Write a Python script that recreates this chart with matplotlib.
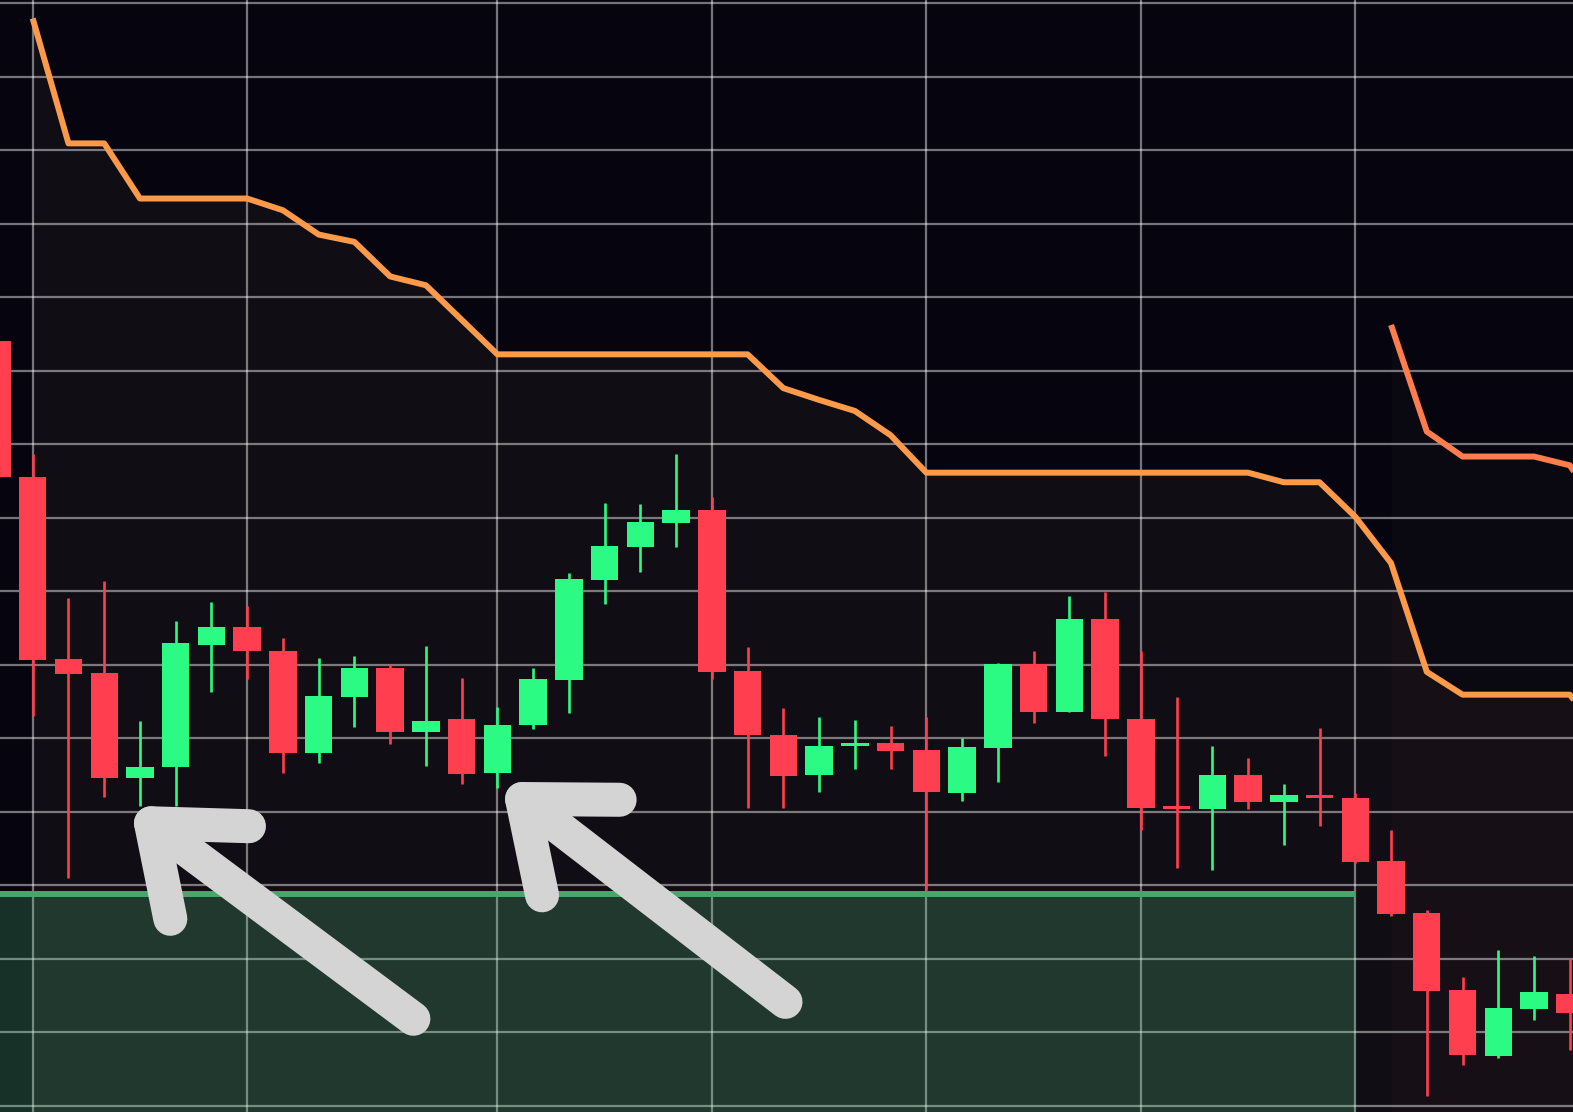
import matplotlib.pyplot as plt
import numpy as np

# candles (OHLC), one per bar
opens = [1104.0, 1085.5, 1060.7, 1058.8, 1044.6, 1046.1, 1062.7, 1065.1, 1061.8, 1048.0,
         1055.6, 1059.5, 1050.8, 1052.6, 1045.2, 1051.8, 1057.9, 1071.5, 1076.0, 1079.3,
         1081.0, 1059.1, 1050.4, 1045.0, 1048.9, 1049.3, 1048.4, 1042.5, 1048.6, 1060.1,
         1053.5, 1066.2, 1052.6, 1040.7, 1040.3, 1045.0, 1041.3, 1042.2, 1041.8, 1033.3,
         1026.2, 1015.7, 1006.7, 1013.2, 1015.2]
highs = [1105.5, 1088.6, 1069.0, 1071.4, 1052.3, 1065.9, 1068.5, 1068.0, 1063.6, 1060.9,
         1061.2, 1060.1, 1062.5, 1058.2, 1054.2, 1059.5, 1072.4, 1082.0, 1081.8, 1088.6,
         1082.8, 1062.4, 1054.1, 1052.9, 1052.4, 1051.6, 1052.9, 1050.0, 1060.2, 1061.8,
         1069.3, 1069.9, 1061.8, 1055.6, 1048.9, 1047.3, 1043.8, 1051.4, 1042.5, 1037.5,
         1026.6, 1017.5, 1021.1, 1020.3, 1020.1]
lows = [1084.4, 1053.0, 1031.0, 1042.0, 1040.7, 1040.7, 1056.3, 1058.0, 1045.2, 1046.6,
        1051.5, 1049.2, 1046.2, 1043.7, 1043.2, 1051.2, 1053.4, 1068.2, 1072.6, 1076.0,
        1058.0, 1040.5, 1040.5, 1042.7, 1045.8, 1045.8, 1029.3, 1041.4, 1044.0, 1052.0,
        1053.5, 1047.6, 1037.5, 1032.3, 1032.0, 1040.3, 1035.4, 1038.0, 1033.0, 1025.8,
        1001.3, 1005.5, 1006.5, 1011.7, 1007.6]
closes = [1085.5, 1060.6, 1058.7, 1044.6, 1046.1, 1062.9, 1065.1, 1061.8, 1048.0, 1055.7,
          1059.5, 1050.8, 1052.3, 1045.1, 1051.8, 1058.0, 1071.6, 1076.1, 1079.4, 1081.0,
          1059.0, 1050.4, 1044.8, 1048.9, 1049.3, 1048.2, 1042.7, 1048.8, 1060.1, 1053.5,
          1066.2, 1052.6, 1040.5, 1040.4, 1045.0, 1041.3, 1042.2, 1041.9, 1033.1, 1026.1,
          1015.6, 1006.9, 1013.3, 1015.4, 1012.6]

# trailing stop lines
stop1_x = list(range(1, 46))
stop1 = [1147.9, 1130.9, 1130.9, 1123.4, 1123.4, 1123.4, 1123.4, 1121.8, 1118.5, 1117.5,
         1112.8, 1111.6, 1106.9, 1102.2, 1102.2, 1102.2, 1102.2, 1102.2, 1102.2, 1102.2,
         1102.2, 1097.6, 1096.0, 1094.5, 1091.2, 1086.1, 1086.1, 1086.1, 1086.1, 1086.1,
         1086.1, 1086.1, 1086.1, 1086.1, 1086.1, 1084.8, 1084.8, 1080.1, 1073.8, 1059.0,
         1055.9, 1055.9, 1055.9, 1055.9, 1050.0]
stop2_x = list(range(39, 46))
stop2 = [1106.2, 1091.7, 1088.3, 1088.3, 1088.3, 1087.1, 1080.0]

# demand zone
zone_top = 1028.8
zone_end = 38

# grid
xgrid = [1, 7, 14, 20, 26, 32, 38]
ygrid = list(range(1000, 1151, 10))

# hand drawn arrows: tip, head arm ends, tail
arrow_tip = [(4.31, 1038.4), (14.69, 1041.7)]
arrow_arm1 = [(7.05, 1038.0), (17.42, 1041.6)]
arrow_arm2 = [(4.85, 1025.4), (15.25, 1028.6)]
arrow_tail = [(11.65, 1011.8), (22.06, 1014.1)]

BG = '#05040f'
UP = '#2bfb83'
DOWN = '#ff3e4f'

fig = plt.figure(figsize=(15.73, 11.12), dpi=100)
ax = fig.add_axes([0, 0, 1, 1])
ax.set_facecolor(BG)
fig.patch.set_facecolor(BG)
ax.set_xlim(0.085, 44.09)
ax.set_ylim(999.12, 1150.41)

ymin = ax.get_ylim()[0]
ax.fill_between(stop1_x, stop1, ymin, color='#7a5a40', alpha=0.11, lw=0, zorder=0.2)
ax.fill_between(stop2_x, stop2, ymin, color='#7a5a40', alpha=0.05, lw=0, zorder=0.2)

ax.set_xticks(xgrid)
ax.set_yticks(ygrid)
ax.set_axisbelow(True)
ax.grid(True, color='white', alpha=0.45, lw=1.6)
ax.tick_params(length=0, labelleft=False, labelbottom=False)
for s in ax.spines.values():
    s.set_visible(False)

# zone
ax.fill_between([-1, zone_end], ymin, zone_top, color='#5cdc8d', alpha=0.21, lw=0, zorder=1)
ax.plot([-1, zone_end], [zone_top, zone_top], color='#48a66b', lw=4.3,
        solid_capstyle='butt', zorder=1.2)

# stop lines
ax.plot(stop1_x, stop1, color='#fd9a4a', lw=4.3, solid_capstyle='butt', zorder=2)
ax.plot(stop2_x, stop2, color='#fe7d4c', lw=4.3, solid_capstyle='butt', zorder=2)

# candles
x = np.arange(len(opens))
o = np.array(opens)
c = np.array(closes)
cols = [UP if cc >= oo else DOWN for oo, cc in zip(o, c)]
ax.vlines(x, lows, highs, colors=cols, lw=1.9, zorder=3)
ax.bar(x, np.abs(c - o), bottom=np.minimum(o, c), width=0.766, color=cols, lw=0, zorder=4)

# arrows
for tip, a1, a2, tail in zip(arrow_tip, arrow_arm1, arrow_arm2, arrow_tail):
    kw = dict(color='#d4d4d4', lw=24.5, solid_capstyle='round', solid_joinstyle='round', zorder=6)
    ax.plot([a1[0], tip[0], a2[0]], [a1[1], tip[1], a2[1]], **kw)
    ax.plot([tip[0], tail[0]], [tip[1], tail[1]], **kw)

fig.savefig('out.png', dpi=100, facecolor=BG)
